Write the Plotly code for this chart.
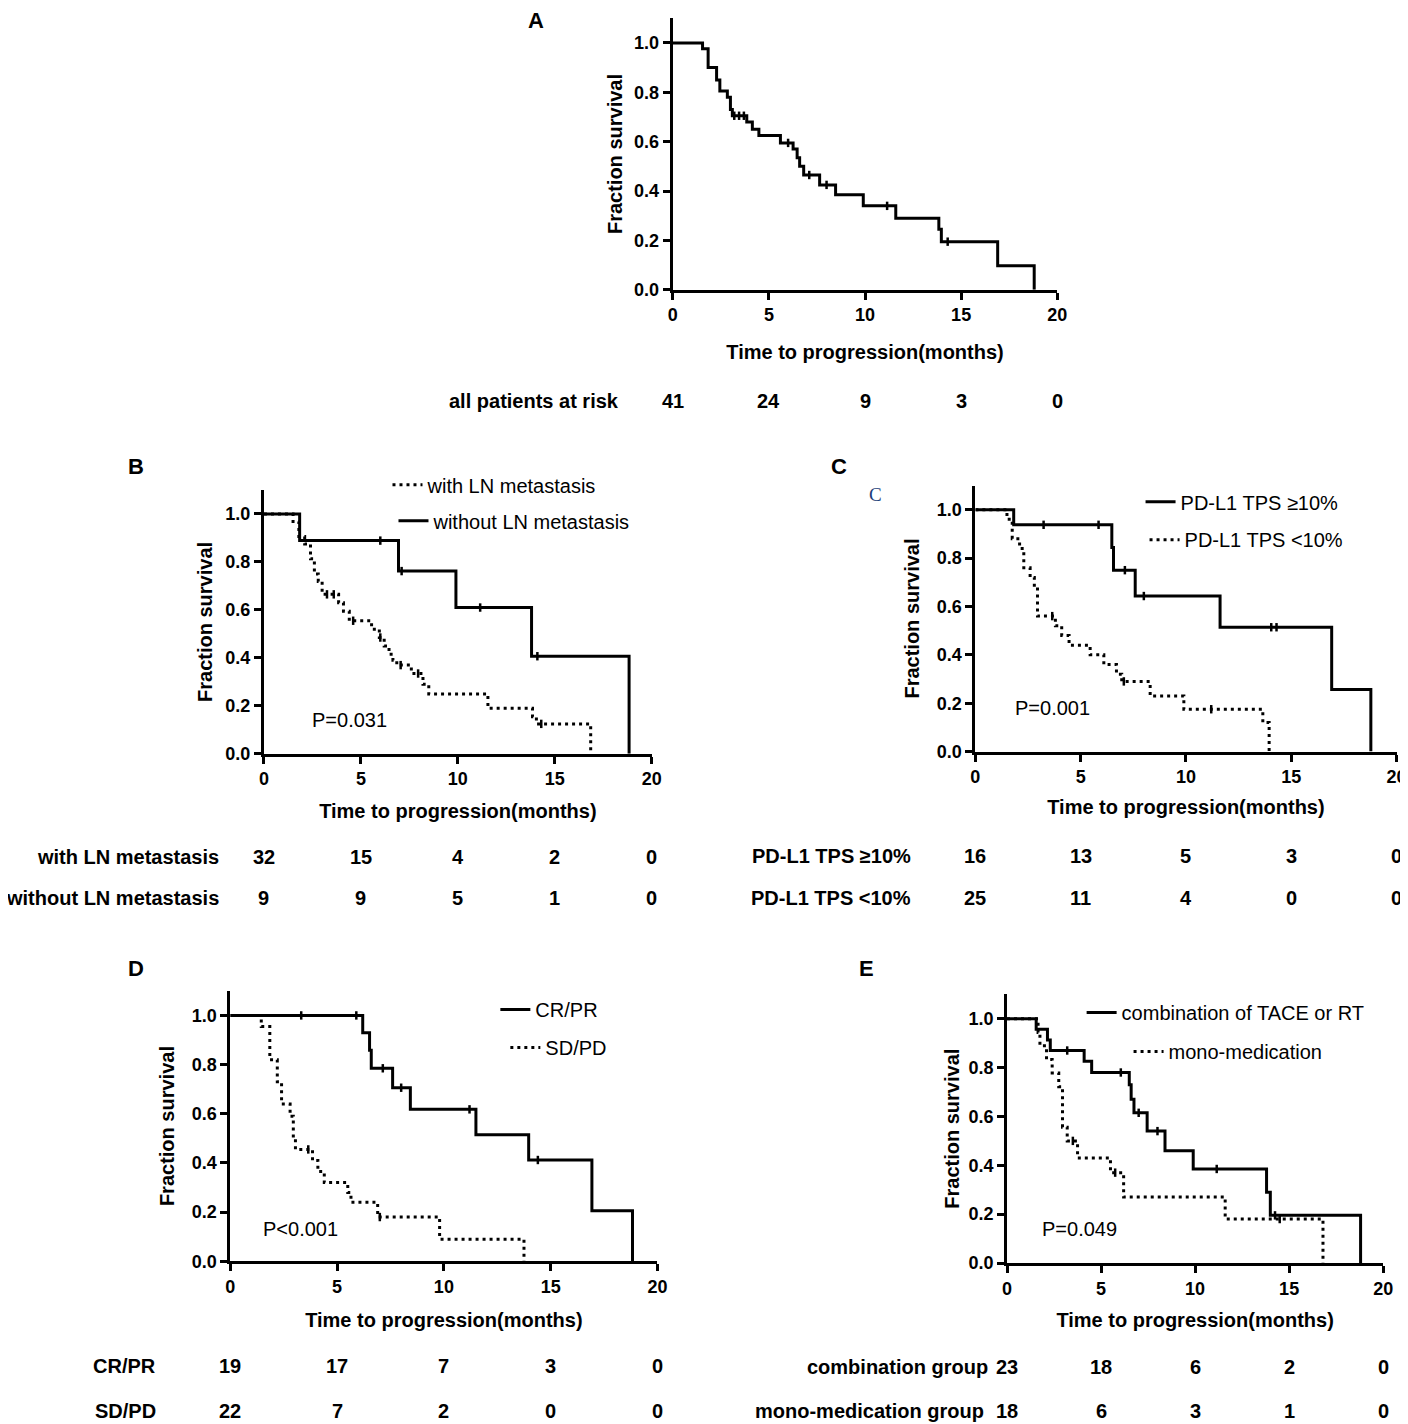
import bisect
import plotly.graph_objects as go

# Page geometry: body margin of 8px; the captured picture maps page coords as
# pic_x = 0.9906*page_x + 3.5, pic_y = 0.9935*page_y - 0.9 (measured), so reference
# pixel positions are converted back to figure pixels below.
OFF = 8
AX, BX = 0.9906, 3.5
AY, BY = 0.9935, -0.9
W, H = 1410, 1426
FONT = "Liberation Sans, Arial, sans-serif"

# ---------------- data ----------------
months_ticks = [0, 5, 10, 15, 20]

A_t = [0, 1.55, 1.84, 2.28, 2.45, 2.84, 3.0, 3.1, 3.85, 4.14, 4.48, 5.6, 6.26, 6.47, 6.6, 6.81, 7.64, 8.47, 9.91, 11.6, 13.84, 13.97, 16.9, 18.8]
A_s = [1.0, 0.976, 0.90, 0.85, 0.805, 0.78, 0.73, 0.705, 0.68, 0.65, 0.625, 0.595, 0.57, 0.535, 0.50, 0.465, 0.425, 0.385, 0.34, 0.29, 0.245, 0.195, 0.097, 0.0]
A_c = [3.2, 3.45, 3.7, 6.0, 7.1, 8.0, 11.15, 14.3]
A_risk_label = "all patients at risk"
A_risk = [41, 24, 9, 3, 0]

B_with_t = [0, 1.5, 1.8, 2.1, 2.4, 2.6, 2.8, 3.0, 3.85, 4.1, 4.4, 5.55, 5.95, 6.2, 6.45, 6.65, 6.85, 7.6, 8.2, 8.5, 11.55, 13.85, 14.05, 16.85]
B_with_s = [1.0, 0.969, 0.906, 0.875, 0.813, 0.75, 0.719, 0.665, 0.63, 0.595, 0.555, 0.52, 0.485, 0.45, 0.415, 0.39, 0.37, 0.335, 0.29, 0.25, 0.19, 0.155, 0.125, 0.0]
B_with_c = [3.25, 3.6, 4.6, 6.0, 7.05, 7.95, 14.3]
B_without_t = [0, 1.84, 6.94, 9.9, 13.8, 18.83]
B_without_s = [1.0, 0.889, 0.762, 0.61, 0.407, 0.0]
B_without_c = [6.0, 7.1, 11.15, 14.1]
B_names = ["with LN metastasis", "without LN metastasis"]
B_risk = [[32, 15, 4, 2, 0], [9, 9, 5, 1, 0]]
B_p = "P=0.031"

C_hi_t = [0, 1.82, 6.48, 6.56, 7.59, 11.62, 16.92, 18.78]
C_hi_s = [1.0, 0.9375, 0.844, 0.75, 0.643, 0.514, 0.257, 0.0]
C_hi_c = [3.24, 5.85, 7.1, 8.0, 14.05, 14.3]
C_lo_t = [0, 1.5, 1.75, 2.1, 2.3, 2.6, 2.8, 2.95, 3.8, 4.1, 4.45, 5.45, 6.1, 6.7, 6.95, 8.3, 9.9, 13.65, 13.95]
C_lo_s = [1.0, 0.96, 0.88, 0.84, 0.76, 0.72, 0.68, 0.56, 0.52, 0.48, 0.44, 0.40, 0.36, 0.32, 0.29, 0.23, 0.175, 0.12, 0.0]
C_lo_c = [3.65, 7.05, 11.2]
C_names = ["PD-L1 TPS \u226510%", "PD-L1 TPS <10%"]
C_risk = [[16, 13, 5, 3, 0], [25, 11, 4, 0, 0]]
C_p = "P=0.001"

D_cr_t = [0, 6.2, 6.52, 6.6, 7.6, 8.43, 11.5, 13.97, 16.93, 18.83]
D_cr_s = [1.0, 0.93, 0.858, 0.785, 0.706, 0.618, 0.515, 0.412, 0.206, 0.0]
D_cr_c = [3.32, 5.9, 7.14, 8.0, 11.2, 14.4]
D_sd_t = [0, 1.45, 1.85, 2.2, 2.4, 2.8, 2.95, 3.05, 3.85, 4.1, 4.4, 5.5, 5.65, 6.9, 9.8, 13.75]
D_sd_s = [1.0, 0.955, 0.82, 0.73, 0.64, 0.59, 0.50, 0.455, 0.41, 0.365, 0.32, 0.28, 0.24, 0.18, 0.09, 0.0]
D_sd_c = [3.65, 7.0]
D_names = ["CR/PR", "SD/PD"]
D_risk = [[19, 17, 7, 3, 0], [22, 7, 2, 0, 0]]
D_p = "P<0.001"

E_comb_t = [0, 1.55, 2.15, 2.3, 4.1, 4.5, 6.5, 6.6, 6.75, 7.45, 8.4, 9.9, 13.8, 14.0, 18.8]
E_comb_s = [1.0, 0.957, 0.913, 0.87, 0.826, 0.78, 0.73, 0.67, 0.615, 0.54, 0.46, 0.385, 0.29, 0.195, 0.0]
E_comb_c = [3.2, 6.05, 7.0, 8.0, 11.15, 14.25]
E_mono_t = [0, 1.65, 1.75, 2.1, 2.4, 2.75, 2.95, 3.2, 3.75, 5.5, 6.2, 11.6, 16.8]
E_mono_s = [1.0, 0.944, 0.889, 0.833, 0.778, 0.722, 0.556, 0.50, 0.43, 0.37, 0.27, 0.18, 0.0]
E_mono_c = [3.5, 5.75, 14.5]
E_names = ["combination of TACE or RT", "mono-medication"]
E_risk_labels = ["combination group", "mono-medication group"]
E_risk = [[23, 18, 6, 2, 0], [18, 6, 3, 1, 0]]
E_p = "P=0.049"

# ---------------- layout helpers ----------------
def px(x):
    return ((x - BX) / AX - OFF) / W

def py(y):
    return 1 - ((y - BY) / AY - OFF) / H

# panel geometry in reference pixels: (x at 0, x at 20, y at 1.1, y at 0)
panels = {
    "A": (672, 1057, 17.3, 289),
    "B": (262.7, 651, 489.3, 753.3),
    "C": (975, 1396.7, 484.8, 751),
    "D": (229, 656.7, 990.4, 1261),
    "E": (1006.7, 1383.3, 993.9, 1262.7),
}
xstand = {"A": 21, "B": 16, "C": 14, "D": 18, "E": 16}
ystand = {"A": 7, "B": 8, "C": 12, "D": 12, "E": 4}

fig = go.Figure()
layout = dict(
    width=W, height=H, margin=dict(l=0, r=0, t=0, b=0),
    paper_bgcolor="white", plot_bgcolor="white",
    font=dict(family=FONT, color="black"),
    annotations=[],
)

axis_ids = {}
for i, key in enumerate(["A", "B", "C", "D", "E"]):
    n = "" if i == 0 else str(i + 1)
    axis_ids[key] = ("x" + n, "y" + n)
    x0, x20, yt, y0 = panels[key]
    common = dict(showline=True, linewidth=3, linecolor="black", ticks="outside",
                  ticklen=7, tickwidth=3, tickcolor="black", showgrid=False, zeroline=False,
                  tickfont=dict(family=FONT, size=18, color="black", weight="bold"))
    layout["xaxis" + n] = dict(
        domain=[px(x0), px(x20)], range=[0, 20], tickvals=months_ticks,
        anchor="y" + n,
        title=dict(text="Time to progression(months)", standoff=xstand[key],
                   font=dict(family=FONT, size=20, color="black", weight="bold")),
        **common)
    layout["yaxis" + n] = dict(
        domain=[py(y0), py(yt)], range=[0, 1.1], tickvals=[0, 0.2, 0.4, 0.6, 0.8, 1.0],
        tickformat=".1f", anchor="x" + n,
        title=dict(text="Fraction survival", standoff=ystand[key],
                   font=dict(family=FONT, size=20, color="black", weight="bold")),
        **common)


def surv_at(t, s, tc):
    i = bisect.bisect_right(t, tc) - 1
    return s[max(i, 0)]


def add_curve(key, t, s, cens, dash, name=None, legend=None):
    xa, ya = axis_ids[key]
    fig.add_trace(go.Scatter(
        x=t, y=s, mode="lines", line=dict(shape="hv", color="black", width=3, dash=dash),
        xaxis=xa, yaxis=ya, name=name or "", showlegend=name is not None,
        legend=legend or "legend", hoverinfo="skip"))
    fig.add_trace(go.Scatter(
        x=cens, y=[surv_at(t, s, c) for c in cens], mode="markers",
        marker=dict(symbol="line-ns", size=6, line=dict(color="black", width=2.5)),
        xaxis=xa, yaxis=ya, showlegend=False, hoverinfo="skip", cliponaxis=False))


DOT = "3px,4px"
add_curve("A", A_t, A_s, A_c, "solid")
add_curve("B", B_with_t, B_with_s, B_with_c, DOT, B_names[0], "legend")
add_curve("B", B_without_t, B_without_s, B_without_c, "solid", B_names[1], "legend2")
add_curve("C", C_hi_t, C_hi_s, C_hi_c, "solid", C_names[0], "legend3")
add_curve("C", C_lo_t, C_lo_s, C_lo_c, DOT, C_names[1], "legend4")
add_curve("D", D_cr_t, D_cr_s, D_cr_c, "solid", D_names[0], "legend5")
add_curve("D", D_sd_t, D_sd_s, D_sd_c, DOT, D_names[1], "legend6")
add_curve("E", E_comb_t, E_comb_s, E_comb_c, "solid", E_names[0], "legend7")
add_curve("E", E_mono_t, E_mono_s, E_mono_c, DOT, E_names[1], "legend8")

# legend entries: (text-left x px, centre y px) in reference pixels
leg_pos = [(427, 485), (433, 521), (1181, 502), (1185, 540),
           (535, 1010), (545, 1048), (1122, 1013), (1169, 1052)]
LEG_TEXT_OFFSET = 41
for i, (tx, ty) in enumerate(leg_pos):
    nm = "legend" if i == 0 else "legend" + str(i + 1)
    layout[nm] = dict(x=px(tx) - LEG_TEXT_OFFSET / W, y=py(ty) + 1.0 / H,
                      xanchor="left", yanchor="middle",
                      bgcolor="rgba(0,0,0,0)", borderwidth=0,
                      font=dict(family=FONT, size=20, color="black"))

ann = layout["annotations"]

def text(x, y, s, size=20, bold=True, xanchor="center", xref="paper", color="black", family=FONT):
    ann.append(dict(x=x, y=y, xref=xref, yref="paper", text=s, showarrow=False,
                    xanchor=xanchor, yanchor="middle",
                    font=dict(family=family, size=size, color=color,
                              weight="bold" if bold else "normal")))

# panel letters
for L, (lx, ly) in {"A": (535, 20), "B": (135, 466), "C": (838, 466),
                    "D": (135, 968), "E": (866, 968)}.items():
    text(px(lx), py(ly), L, size=22)
text(px(875), py(494), "C", size=19, bold=False, color="#1d3f7a",
     family="Liberation Serif, DejaVu Serif, serif")

# P values (data coords)
def ptext(key, x, y, s):
    xa, ya = axis_ids[key]
    ann.append(dict(x=x, y=y, xref=xa, yref=ya, text=s, showarrow=False,
                    font=dict(family=FONT, size=20, color="black")))

ptext("B", 4.4, 0.14, B_p)
ptext("C", 3.67, 0.18, C_p)
ptext("D", 3.3, 0.13, D_p)
ptext("E", 3.85, 0.14, E_p)

# at-risk tables
def risk_row(key, label, label_right, ypx, values):
    xa, _ = axis_ids[key]
    text(px(label_right), py(ypx), label, xanchor="right")
    for t, v in zip(months_ticks, values):
        text(t, py(ypx), str(v), xref=xa)

risk_row("A", A_risk_label, 620, 400, A_risk)
risk_row("B", B_names[0], 220, 856, B_risk[0])
risk_row("B", B_names[1], 220, 898, B_risk[1])
risk_row("C", C_names[0], 913, 855, C_risk[0])
risk_row("C", C_names[1], 913, 898, C_risk[1])
risk_row("D", D_names[0], 157, 1366, D_risk[0])
risk_row("D", D_names[1], 157, 1411, D_risk[1])
risk_row("E", E_risk_labels[0], 990, 1367, E_risk[0])
risk_row("E", E_risk_labels[1], 986, 1411, E_risk[1])

fig.update_layout(**layout)
fig.write_html("out.html",
               post_script="document.documentElement.style.overflow='hidden';"
                           "document.body.style.overflow='hidden';")
